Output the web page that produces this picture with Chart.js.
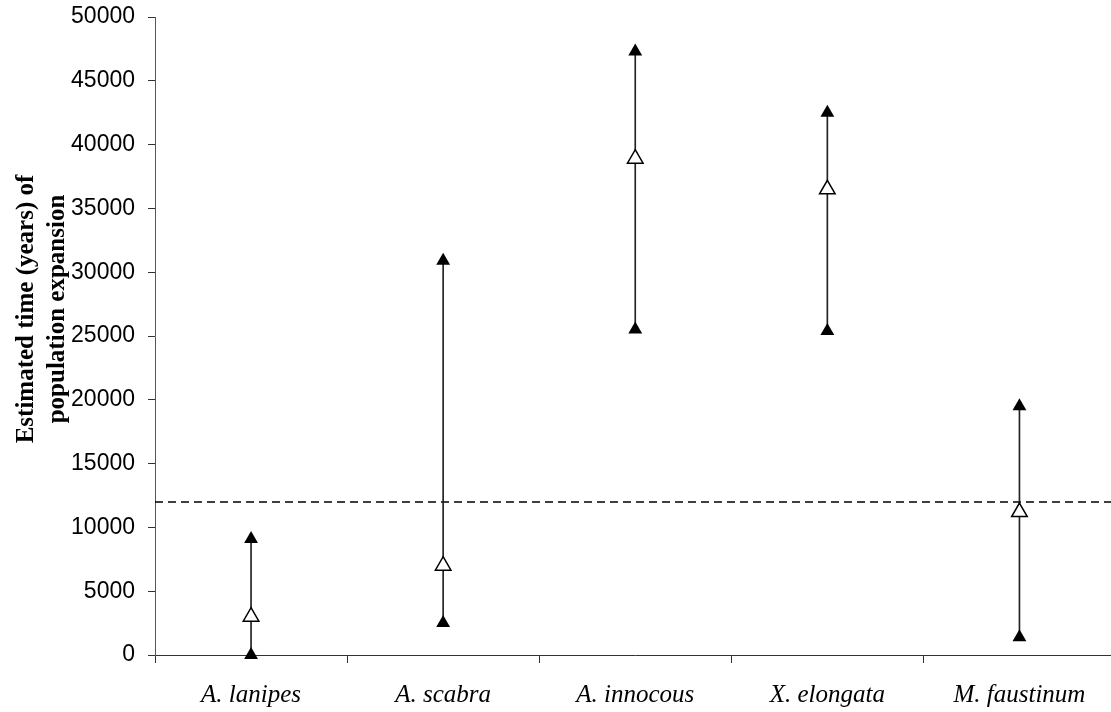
<!DOCTYPE html>
<html>
<head>
<meta charset="utf-8">
<script src="https://cdn.jsdelivr.net/npm/chart.js@4/dist/chart.umd.min.js"></script>
<style>
  html, body { margin: 0; padding: 0; background: #fff; overflow: hidden; width: 1111px; height: 712px; }
  #wrap { width: 1126px; height: 712px; }
</style>
</head>
<body>
<div id="wrap"><canvas id="c" width="1126" height="712"></canvas></div>
<script>
const categories = ['A. lanipes', 'A. scabra', 'A. innocous', 'X. elongata', 'M. faustinum'];
const upperValues = [9100, 30900, 47300, 42500, 19500];
const estimateValues = [3000, 7000, 38900, 36500, 11200];
const lowerValues = [0, 2500, 25500, 25400, 1400];
const thresholdValue = 12000;
const yMin = 0, yMax = 50000, yStep = 5000;
const yTitleLines = ['Estimated time (years) of', 'population expansion'];

const rangeData = lowerValues.map((l, i) => [l, upperValues[i]]);

const thresholdPlugin = {
  id: 'threshold',
  beforeDatasetsDraw(chart) {
    const { ctx, chartArea, scales } = chart;
    const y = scales.y.getPixelForValue(thresholdValue);
    ctx.save();
    ctx.strokeStyle = '#000';
    ctx.lineWidth = 1.5;
    ctx.setLineDash([8, 5]);
    ctx.beginPath();
    ctx.moveTo(chartArea.left, y);
    ctx.lineTo(chartArea.right, y);
    ctx.stroke();
    ctx.restore();
  }
};

const yTitlePlugin = {
  id: 'yTitle',
  afterDraw(chart) {
    const { ctx } = chart;
    ctx.save();
    ctx.fillStyle = '#000';
    ctx.font = 'bold 25px "Liberation Serif", "Times New Roman", serif';
    ctx.textAlign = 'center';
    ctx.textBaseline = 'alphabetic';
    const cy = 309;
    const baselines = [33, 64];
    yTitleLines.forEach((t, i) => {
      ctx.save();
      ctx.translate(baselines[i], cy);
      ctx.rotate(-Math.PI / 2);
      ctx.fillText(t, 0, 0);
      ctx.restore();
    });
    ctx.restore();
  }
};

new Chart(document.getElementById('c'), {
  type: 'bar',
  data: {
    labels: categories,
    datasets: [
      {
        type: 'bar',
        data: rangeData,
        backgroundColor: '#222',
        borderWidth: 0,
        barThickness: 1,
        order: 3
      },
      {
        type: 'line',
        data: upperValues,
        showLine: false,
        pointStyle: 'triangle',
        pointRadius: 8,
        pointBackgroundColor: '#000',
        pointBorderColor: '#000',
        pointBorderWidth: 0,
        clip: false,
        order: 2
      },
      {
        type: 'line',
        data: lowerValues,
        showLine: false,
        pointStyle: 'triangle',
        pointRadius: 8,
        pointBackgroundColor: '#000',
        pointBorderColor: '#000',
        pointBorderWidth: 0,
        clip: false,
        order: 2
      },
      {
        type: 'line',
        data: estimateValues,
        showLine: false,
        pointStyle: 'triangle',
        pointRadius: 9,
        pointBackgroundColor: '#fff',
        pointBorderColor: '#000',
        pointBorderWidth: 1.5,
        clip: false,
        order: 1
      }
    ]
  },
  options: {
    responsive: false,
    animation: false,
    layout: { padding: { top: 17, right: 1, left: 0, bottom: 0 } },
    plugins: { legend: { display: false }, tooltip: { enabled: false } },
    scales: {
      x: {
        type: 'category',
        offset: true,
        grid: { offset: true, drawOnChartArea: false, drawTicks: true, tickLength: 8, color: '#333', lineWidth: 1 },
        border: { display: true, color: '#333', width: 1 },
        ticks: {
          color: '#000',
          padding: 17,
          maxRotation: 0,
          font: { family: '"Liberation Serif", "Times New Roman", serif', size: 25, style: 'italic' }
        },
        afterFit(scale) { scale.height = 57; scale.paddingLeft = 0; scale.paddingRight = 0; }
      },
      y: {
        min: yMin,
        max: yMax,
        ticks: {
          stepSize: yStep,
          color: '#000',
          padding: 13,
          callback: (v) => String(v),
          font: { family: '"Liberation Sans", Arial, sans-serif', size: 23 }
        },
        grid: { drawOnChartArea: false, drawTicks: true, tickLength: 7, color: '#333', lineWidth: 1 },
        border: { display: true, color: '#555', width: 1 },
        afterFit(scale) { scale.width = 155; scale.paddingTop = 0; scale.paddingBottom = 0; }
      }
    }
  },
  plugins: [thresholdPlugin, yTitlePlugin]
});
</script>
</body>
</html>
